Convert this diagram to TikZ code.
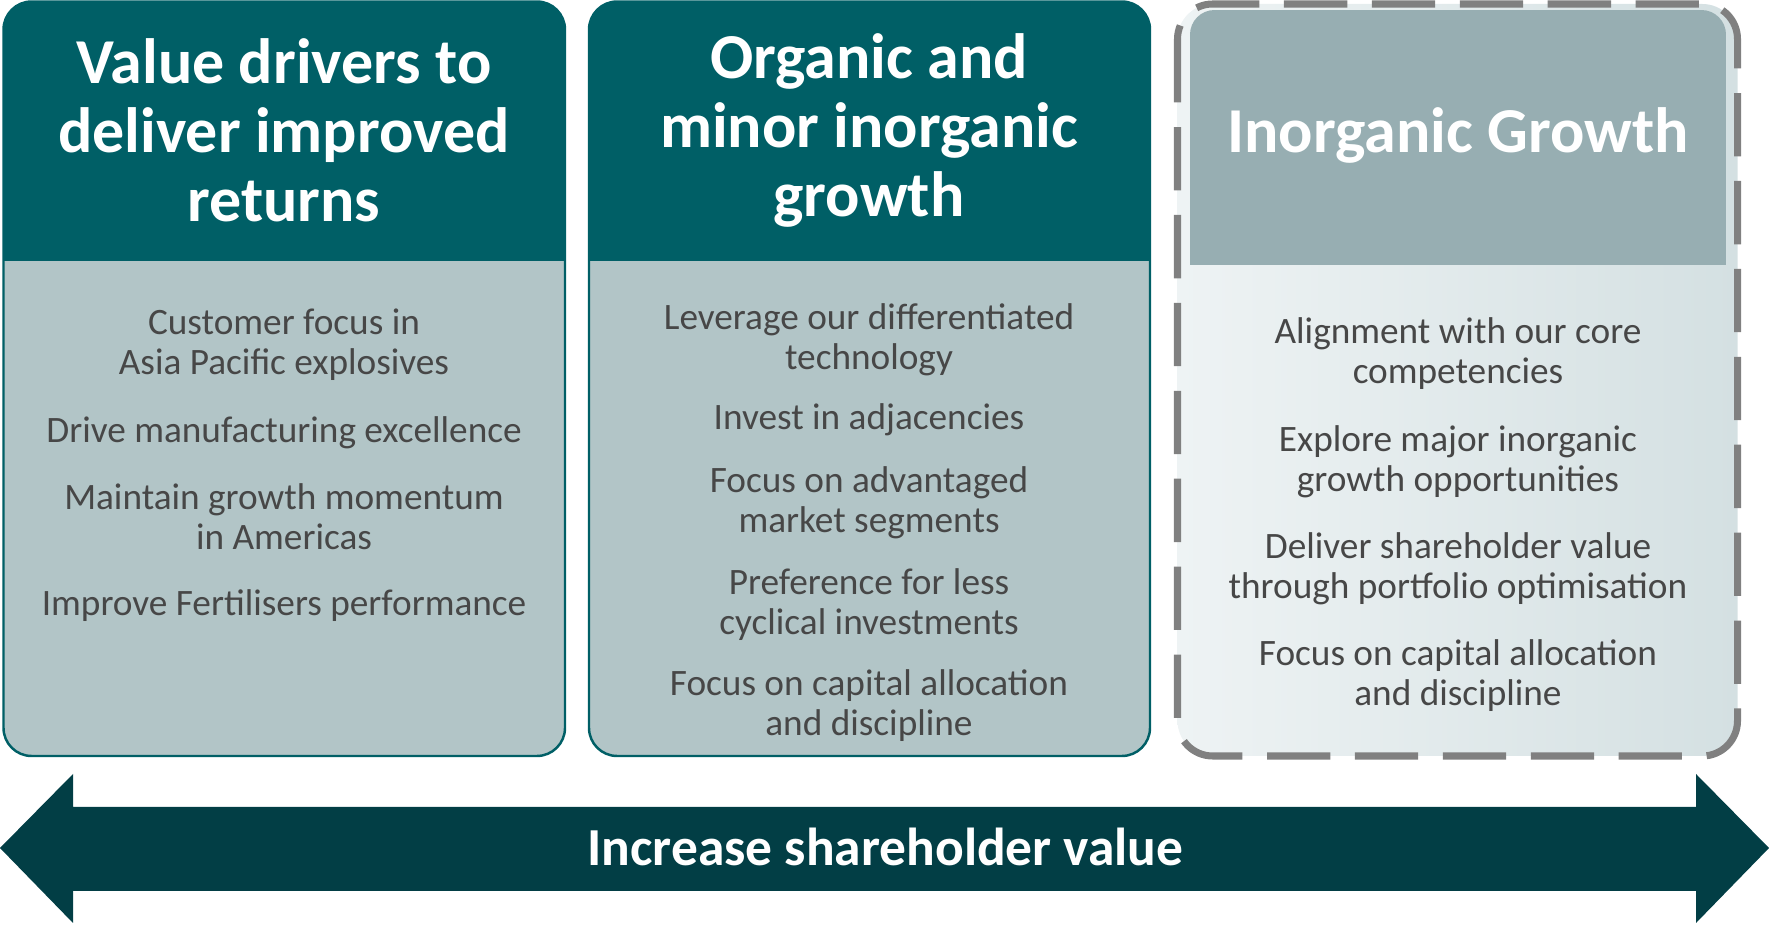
\documentclass[tikz,border=0pt]{standalone}
\usepackage{fontspec}
\setmainfont{Carlito}

\definecolor{headteal}{HTML}{005F66}
\definecolor{bodygrey}{HTML}{B2C5C7}
\definecolor{headgrey}{HTML}{97AEB2}
\definecolor{dashgrey}{HTML}{808080}
\definecolor{arrowteal}{HTML}{023E45}
\definecolor{itemgrey}{HTML}{474747}
\definecolor{paleleft}{HTML}{EEF3F4}
\definecolor{paleright}{HTML}{D4E0E2}

\tikzset{
  headtext/.style={text=white, font=\bfseries\fontsize{18.2}{19.6}\selectfont, align=center, inner sep=0pt, anchor=base},
  itemtext/.style={text=itemgrey, font=\fontsize{10.6}{11.4}\selectfont, align=center, inner sep=0pt, anchor=base},
}

\begin{document}
\begin{tikzpicture}[x=0.01cm, y=-0.01cm]
\useasboundingbox (0,0) rectangle (1769,925);

\begin{scope}
\clip[rounded corners=8pt] (3.5,1.5) rectangle (565,756);
\fill[bodygrey] (3.5,1.5) rectangle (565,756);
\fill[headteal] (3.5,1.5) rectangle (565,261);
\end{scope}
\draw[headteal, line width=0.7pt, rounded corners=8pt] (3.5,1.5) rectangle (565,756);

\begin{scope}
\clip[rounded corners=8pt] (589,1.5) rectangle (1150,756);
\fill[bodygrey] (589,1.5) rectangle (1150,756);
\fill[headteal] (589,1.5) rectangle (1150,261);
\end{scope}
\draw[headteal, line width=0.7pt, rounded corners=8pt] (589,1.5) rectangle (1150,756);

\shade[left color=paleleft, right color=paleright, rounded corners=10pt] (1177.5,4) rectangle (1737.5,756);
\begin{scope}
\clip[rounded corners=7pt] (1190,10) rectangle (1726,300);
\fill[headgrey] (1190,10) rectangle (1726,265);
\end{scope}
\draw[dashgrey, line width=2pt, dash pattern=on 18pt off 7pt, rounded corners=10pt] (1177.5,4) rectangle (1737.5,756);

\node[headtext] (valuehead) at (284,221.7) {Value drivers to\\deliver improved\\returns};
\node[headtext] (organichead) at (869,216.5) {Organic and\\minor inorganic\\growth};
\node[headtext] (inorganichead) at (1458,152.7) {Inorganic Growth};

\node[itemtext] (customer) at (284,375) {Customer focus in\\Asia Pacific explosives};
\node[itemtext] (drive) at (284,443) {Drive manufacturing excellence};
\node[itemtext] (maintain) at (284,550) {Maintain growth momentum\\in Americas};
\node[itemtext] (improve) at (284,615.5) {Improve Fertilisers performance};

\node[itemtext] (leverage) at (869,370) {Leverage our differentiated\\technology};
\node[itemtext] (invest) at (869,430) {Invest in adjacencies};
\node[itemtext] (advantaged) at (869,532.5) {Focus on advantaged\\market segments};
\node[itemtext] (preference) at (869,635) {Preference for less\\cyclical investments};
\node[itemtext] (capitala) at (869,736) {Focus on capital allocation\\and discipline};

\node[itemtext] (alignment) at (1458,384) {Alignment with our core\\competencies};
\node[itemtext] (explore) at (1458,491.5) {Explore major inorganic\\growth opportunities};
\node[itemtext] (deliver) at (1458,599) {Deliver shareholder value\\through portfolio optimisation};
\node[itemtext] (capitalb) at (1458,705.5) {Focus on capital allocation\\and discipline};

\fill[arrowteal] (0,848) -- (73,774) -- (73,807) -- (1696,807) -- (1696,774) -- (1769,848)
  -- (1696,923) -- (1696,891) -- (73,891) -- (73,923) -- cycle;
\node[headtext, font=\bfseries\fontsize{15.2}{17}\selectfont] (increase) at (885.5,866) {Increase shareholder value};
\end{tikzpicture}
\end{document}
